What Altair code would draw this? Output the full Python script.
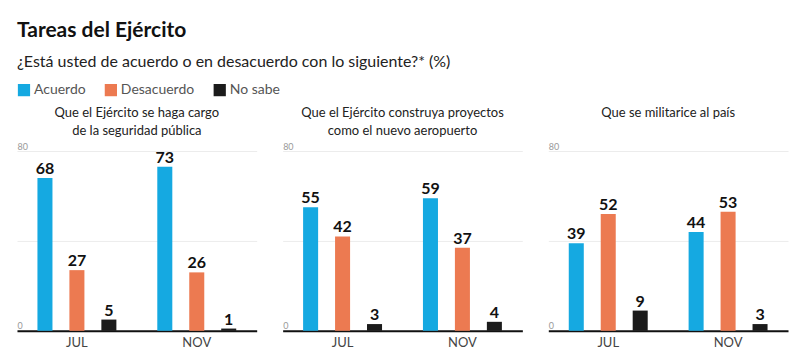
import altair as alt
import pandas as pd

panels = [
    ["Que el Ejército se haga cargo", "de la seguridad pública"],
    ["Que el Ejército construya proyectos", "como el nuevo aeropuerto"],
    ["Que se militarice al país", ""],
]
periods = ["JUL", "NOV"]
series = ["Acuerdo", "Desacuerdo", "No sabe"]
colors = ["#15A9E1", "#EC7A51", "#1B1B1B"]
acuerdo = [[68, 73], [55, 59], [39, 44]]
desacuerdo = [[27, 26], [42, 37], [52, 53]]
no_sabe = [[5, 1], [3, 4], [9, 3]]

FONT = "Lato"


def panel_df(i):
    rows = []
    for j, p in enumerate(periods):
        for s, vals in zip(series, [acuerdo, desacuerdo, no_sabe]):
            rows.append({"periodo": p, "serie": s, "valor": vals[i][j]})
    return pd.DataFrame(rows)


def make_panel(i):
    df = panel_df(i)
    base = alt.Chart(df).encode(
        x=alt.X("periodo:N", sort=periods, title=None,
                scale=alt.Scale(paddingInner=0, paddingOuter=0),
                axis=alt.Axis(labelAngle=0, domainColor="#111", domainWidth=2,
                              ticks=False, labelPadding=6, labelFontSize=13,
                              labelColor="#444", labelFont=FONT, grid=False)),
        xOffset=alt.XOffset("serie:N", sort=series,
                            scale=alt.Scale(paddingInner=0.53, paddingOuter=0.64)),
        y=alt.Y("valor:Q", title=None,
                scale=alt.Scale(domain=[0, 80], nice=False),
                axis=alt.Axis(values=[0, 40, 80], domain=False, ticks=False,
                              tickSize=0, labelPadding=0, labelAlign="left",
                              labelBaseline="bottom", labelFontSize=9,
                              labelColor="#999", labelFont=FONT,
                              labelExpr="datum.value == 40 ? '' : datum.label",
                              gridColor="#ececec", gridWidth=1)),
    )
    bars = base.mark_bar().encode(
        color=alt.Color("serie:N", sort=series,
                        scale=alt.Scale(domain=series, range=colors),
                        legend=alt.Legend(title=None, orient="top", direction="horizontal",
                                          symbolType="square", symbolSize=150,
                                          symbolStrokeWidth=0, symbolOpacity=1,
                                          labelFontSize=14, labelColor="#555",
                                          labelFont=FONT, columnPadding=18,
                                          labelOffset=3, offset=10))
    )
    labels = base.mark_text(baseline="bottom", dy=-1, fontSize=16,
                            fontWeight="bold", font=FONT, color="#111").encode(
        text=alt.Text("valor:Q")
    )
    return alt.layer(bars, labels).properties(
        width=240, height=180,
        title=alt.TitleParams(panels[i], fontSize=13, fontWeight="normal",
                              color="#222", font=FONT, anchor="middle",
                              lineHeight=18, offset=4),
    )


chart = alt.hconcat(*[make_panel(i) for i in range(3)], spacing=26).properties(
    title=alt.TitleParams("Tareas del Ejército",
                          subtitle="¿Está usted de acuerdo o en desacuerdo con lo siguiente?* (%)",
                          anchor="start", fontSize=21, fontWeight="bold", color="#111",
                          font=FONT, subtitleFont=FONT, subtitleFontSize=16,
                          subtitleColor="#222", subtitlePadding=13, offset=13),
    padding={"left": 9, "right": 4, "top": 12, "bottom": 2},
).configure_view(stroke=None)

chart.save("out.html", embed_options={"renderer": "svg", "actions": False})
